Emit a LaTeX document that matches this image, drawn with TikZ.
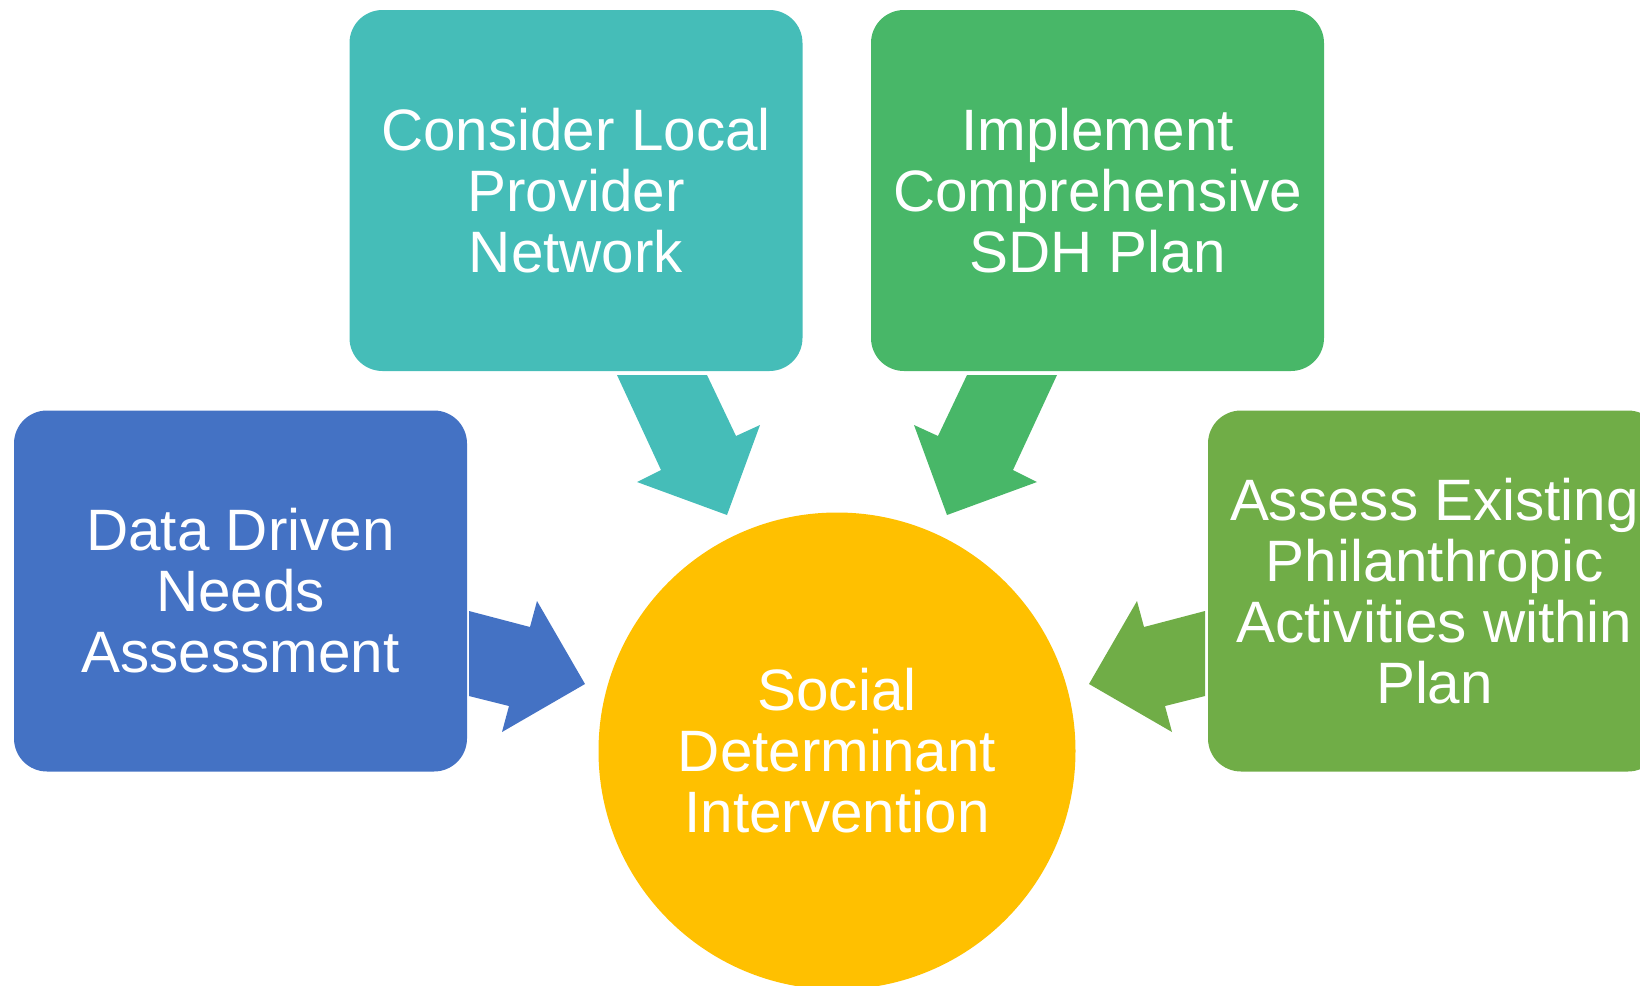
\documentclass[tikz,border=0pt]{standalone}
\usepackage{fontspec}
\setmainfont{Liberation Sans}

\definecolor{needsBlue}{HTML}{4472C4}
\definecolor{providerTeal}{HTML}{45BDB8}
\definecolor{planGreen}{HTML}{48B768}
\definecolor{assessGreen}{HTML}{70AD47}
\definecolor{centreGold}{HTML}{FFC000}

\begin{document}
\begin{tikzpicture}[x=0.5pt,y=-0.5pt,
    stepbox/.style={rounded corners=16.5pt, minimum width=226.5pt,
      minimum height=180.5pt, inner sep=0pt, text=white, align=center,
      font=\fontsize{29.2}{30.5}\selectfont},
    hub/.style={circle, minimum size=238.5pt, inner sep=0pt, text=white,
      align=center, fill=centreGold, font=\fontsize{29.2}{30.5}\selectfont}]
  \useasboundingbox (0,0) rectangle (1640,986);

  % Outer steps
  \node[stepbox, fill=needsBlue] (needs) at (240.5,591)
    {Data Driven\\Needs\\Assessment};
  \node[stepbox, fill=providerTeal] (provider) at (576,190.5)
    {Consider Local\\Provider\\Network};
  \node[stepbox, fill=planGreen] (plan) at (1097.5,190.5)
    {Implement\\Comprehensive\\SDH Plan};
  \node[stepbox, fill=assessGreen] (assess) at (1434.5,591)
    {Assess Existing\\Philanthropic\\Activities within\\Plan};

  % Centre
  \node[hub] (sdi) at (837,751) {Social\\Determinant\\Intervention};

  % Block arrows into the centre
  \fill[needsBlue] (469,611) -- (530,627) -- (537,601) -- (585,684)
    -- (502,732) -- (509,706) -- (469,696) -- cycle;
  \fill[providerTeal] (617,375) -- (707,375) -- (736,436) -- (760,425)
    -- (727,515) -- (637,482) -- (661,470) -- cycle;
  \fill[planGreen] (1057,375) -- (967,375) -- (938,436) -- (914,425)
    -- (947,515) -- (1037,482) -- (1013,470) -- cycle;
  \fill[assessGreen] (1205,611) -- (1144,627) -- (1137,601) -- (1089,684)
    -- (1172,732) -- (1165,706) -- (1205,696) -- cycle;
\end{tikzpicture}
\end{document}
